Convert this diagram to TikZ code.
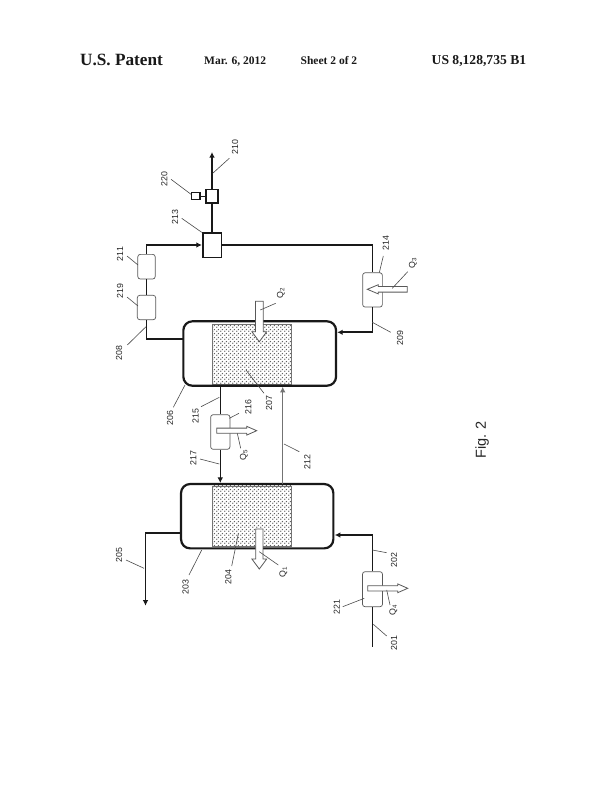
\documentclass[tikz,border=0pt]{standalone}
\usepackage{fontspec}
\setmainfont{Liberation Sans}
\newfontfamily\headfont{Liberation Serif}[BoldFont={Liberation Serif Bold}]
\usetikzlibrary{arrows.meta,patterns}
\definecolor{ink}{gray}{0.1}
\pgfdeclarepatternformonly{beddots}{\pgfpointorigin}{\pgfqpoint{4pt}{4pt}}{\pgfqpoint{4pt}{4pt}}{%
  \pgfpathcircle{\pgfqpoint{1pt}{1pt}}{0.9pt}%
  \pgfpathcircle{\pgfqpoint{3pt}{3pt}}{0.9pt}%
  \pgfusepath{fill}%
}
\tikzset{
  pipe/.style={draw=ink,line width=1.7pt},
  thinpipe/.style={draw=ink,line width=0.9pt},
  graypipe/.style={draw=black!55,line width=1pt},
  flow/.style={-{Latex[length=5.5pt,width=5.5pt]}},
  vessel/.style={draw=ink,line width=2.2pt,rounded corners=9pt,inner sep=0pt,fill=none},
  bed/.style={draw=black!55,line width=0.8pt,inner sep=0pt,pattern=beddots,pattern color=black!62},
  unitbox/.style={draw=black!65,line width=0.7pt,rounded corners=2.5pt,fill=white,inner sep=0pt},
  sqbox/.style={draw=ink,line width=1.6pt,fill=white,inner sep=0pt},
  heat/.style={draw=black!65,fill=white,line width=0.8pt,line join=miter},
  tag/.style={rotate=90,inner sep=0pt,font=\fontsize{8.8}{10}\selectfont,text=black!85},
  leader/.style={draw=black!70,line width=0.6pt},
  head/.style={anchor=base west,inner sep=0pt,font=\headfont\bfseries\fontsize{11.5}{13}\selectfont,text=black!90}
}
% \tagged{id}{text}{label pos}{leader start}{leader end}
\newcommand{\tagged}[5]{%
  \node[tag] (t#1) at (#3) {#2};
  \coordinate (la#1) at (#4);
  \coordinate (lb#1) at (#5);
  \draw[leader] (la#1) -- (lb#1);
}
% horizontal block arrow {tail x}{y}{tip x}{shaft half}{head half}{signed head length}
\newcommand{\heatH}[6]{%
  \draw[heat] (#1,#2-#4) -- (#3-#6,#2-#4) -- (#3-#6,#2-#5) -- (#3,#2) -- (#3-#6,#2+#5) -- (#3-#6,#2+#4) -- (#1,#2+#4) -- cycle;
}
% vertical block arrow {x}{tail y}{tip y}{shaft half}{head half}{signed head length}
\newcommand{\heatV}[6]{%
  \draw[heat] (#1-#4,#2) -- (#1-#4,#3-#6) -- (#1-#5,#3-#6) -- (#1,#3) -- (#1+#5,#3-#6) -- (#1+#4,#3-#6) -- (#1+#4,#2) -- cycle;
}
\begin{document}
\begin{tikzpicture}[x=1pt,y=-1pt]
\useasboundingbox[fill=white] (0,0) rectangle (614,792);

% header
\node[head,font=\headfont\bfseries\fontsize{17.2}{19}\selectfont] (h1) at (80,65.5) {U.S. Patent};
\node[head] (h2) at (204,65) {Mar. 6, 2012};
\node[head] (h3) at (300.5,65) {Sheet 2 of 2};
\node[head,font=\headfont\bfseries\fontsize{13.6}{15}\selectfont] (h4) at (431.5,65) {US 8,128,735 B1};

% beds
\node[bed,minimum width=79.4pt,minimum height=60pt] (bedB) at (252,354.3) {};
\node[bed,minimum width=79pt,minimum height=60.7pt] (bedA) at (251.5,516.3) {};

% vessels
\node[vessel,minimum width=152.7pt,minimum height=64.4pt] (rB) at (259.7,353.5) {};
\node[vessel,minimum width=152.3pt,minimum height=64.3pt] (rA) at (257.2,516.2) {};

% connection points
\coordinate (tipTen) at (212,152);
\coordinate (outB) at (183.3,339.3);
\coordinate (inB) at (337.2,332.3);
\coordinate (outA) at (181,533.3);
\coordinate (tipFive) at (145.5,605.7);
\coordinate (inA) at (334.8,535);
\coordinate (feed) at (372.5,646.7);
\coordinate (xfer) at (282.7,484);

% boxes
\node[sqbox,minimum width=18.6pt,minimum height=24.6pt] (mix) at (212,245) {};
\node[sqbox,minimum width=11.7pt,minimum height=13.7pt] (valve) at (212,196.2) {};
\node[sqbox,line width=1.2pt,minimum width=8.3pt,minimum height=7pt] (ctrl) at (195.8,196.2) {};
\node[unitbox,minimum width=17.4pt,minimum height=24.7pt] (uA) at (146.5,266.7) {};
\node[unitbox,minimum width=18.4pt,minimum height=24.4pt] (uB) at (146.5,307.5) {};
\node[unitbox,minimum width=19.7pt,minimum height=34.3pt] (hxC) at (372.5,289.9) {};
\node[unitbox,minimum width=19.3pt,minimum height=34.6pt] (hxE) at (220.3,432) {};
\node[unitbox,minimum width=20pt,minimum height=35pt] (hxD) at (372.5,589.2) {};

% connectors
\draw[pipe,flow] (valve.north) -- (tipTen);
\draw[pipe] (mix.north) -- (valve.south);
\draw[pipe,line width=1pt] (valve.west) -- (ctrl.east);
\draw[pipe] (outB) -| (uB.south);
\draw[pipe] (uB.north) -- (uA.south);
\draw[pipe,flow] (uA.north) |- (mix.west);
\draw[pipe] (mix.east) -| (hxC.north);
\draw[pipe,flow] (hxC.south) |- (inB);
\draw[thinpipe] (hxE.north |- rB.south) -- (hxE.north);
\draw[thinpipe,flow] (hxE.south) -- (hxE.south |- rA.north);
\draw[graypipe,flow] (xfer) -- (xfer |- rB.south);
\draw[pipe,flow] (outA) -| (tipFive);
\draw[thinpipe,line width=1.1pt] (feed) -- (hxD.south);
\draw[pipe,flow] (hxD.north) |- (inA);

% heat arrows
\heatV{259.3}{301.3}{341.7}{3.9}{7.4}{10}
\heatV{259.3}{529}{569}{3.6}{7.4}{10}
\heatH{407.3}{289.3}{367.3}{2.8}{4.6}{-11}
\heatH{216.7}{430.7}{256.7}{2.6}{4.4}{10}
\heatH{367.7}{588.3}{407.7}{2.6}{4.4}{10}

% labels
\tagged{210}{210}{235,146.7}{229.3,158.3}{212.7,173.3}
\tagged{220}{220}{164.3,179.3}{171,179.3}{191,194.3}
\tagged{213}{213}{175,217.3}{181.7,218.3}{201.7,232.3}
\tagged{211}{211}{120,254}{127,256}{138,265}
\tagged{219}{219}{120,291}{127,297}{138,306}
\tagged{208}{208}{119,353}{127.3,345}{146,326.7}
\tagged{214}{214}{385.7,243.3}{383.3,256}{379.3,272.7}
\tagged{209}{209}{400,338.3}{390.7,332.3}{372.3,322.3}
\tagged{206}{206}{170,418.3}{173.3,407.3}{185,385}
\tagged{207}{207}{269,402.7}{264,393.3}{246,370}
\tagged{215}{215}{195.7,416}{201,406.7}{219.3,397.3}
\tagged{216}{216}{248.3,406.7}{239,413.3}{229.3,418.3}
\tagged{217}{217}{193.3,457.7}{200,459}{219.3,464}
\tagged{212}{212}{307.3,461.7}{299.3,451.7}{284,444}
\tagged{203}{203}{185.7,586.7}{189,575}{201.7,550}
\tagged{204}{204}{228.3,577.3}{231.7,566}{238.3,534}
\tagged{205}{205}{119,555}{126,560}{144,568.3}
\tagged{202}{202}{394,560}{386.7,552.7}{372.3,550}
\tagged{221}{221}{336.7,606.7}{342.7,606.7}{364.3,598.3}
\tagged{201}{201}{394,643.3}{386.7,636}{373.3,624.3}
\tagged{Q2}{Q\textsubscript{2}}{281,293}{275.7,303.3}{260.3,310}
\tagged{Q3}{Q\textsubscript{3}}{413,263}{407.7,271.7}{392.3,288.3}
\tagged{Q5}{Q\textsubscript{5}}{244,455}{240.7,448.3}{237.3,433.3}
\tagged{Q1}{Q\textsubscript{1}}{283.5,572}{278.3,565}{259.3,551.7}
\tagged{Q4}{Q\textsubscript{4}}{393.5,610}{390,605}{386.7,590}

\node[rotate=90,inner sep=0pt,font=\fontsize{14.5}{17}\selectfont,text=black!85] (fig) at (482,440) {Fig. 2};
\end{tikzpicture}
\end{document}
